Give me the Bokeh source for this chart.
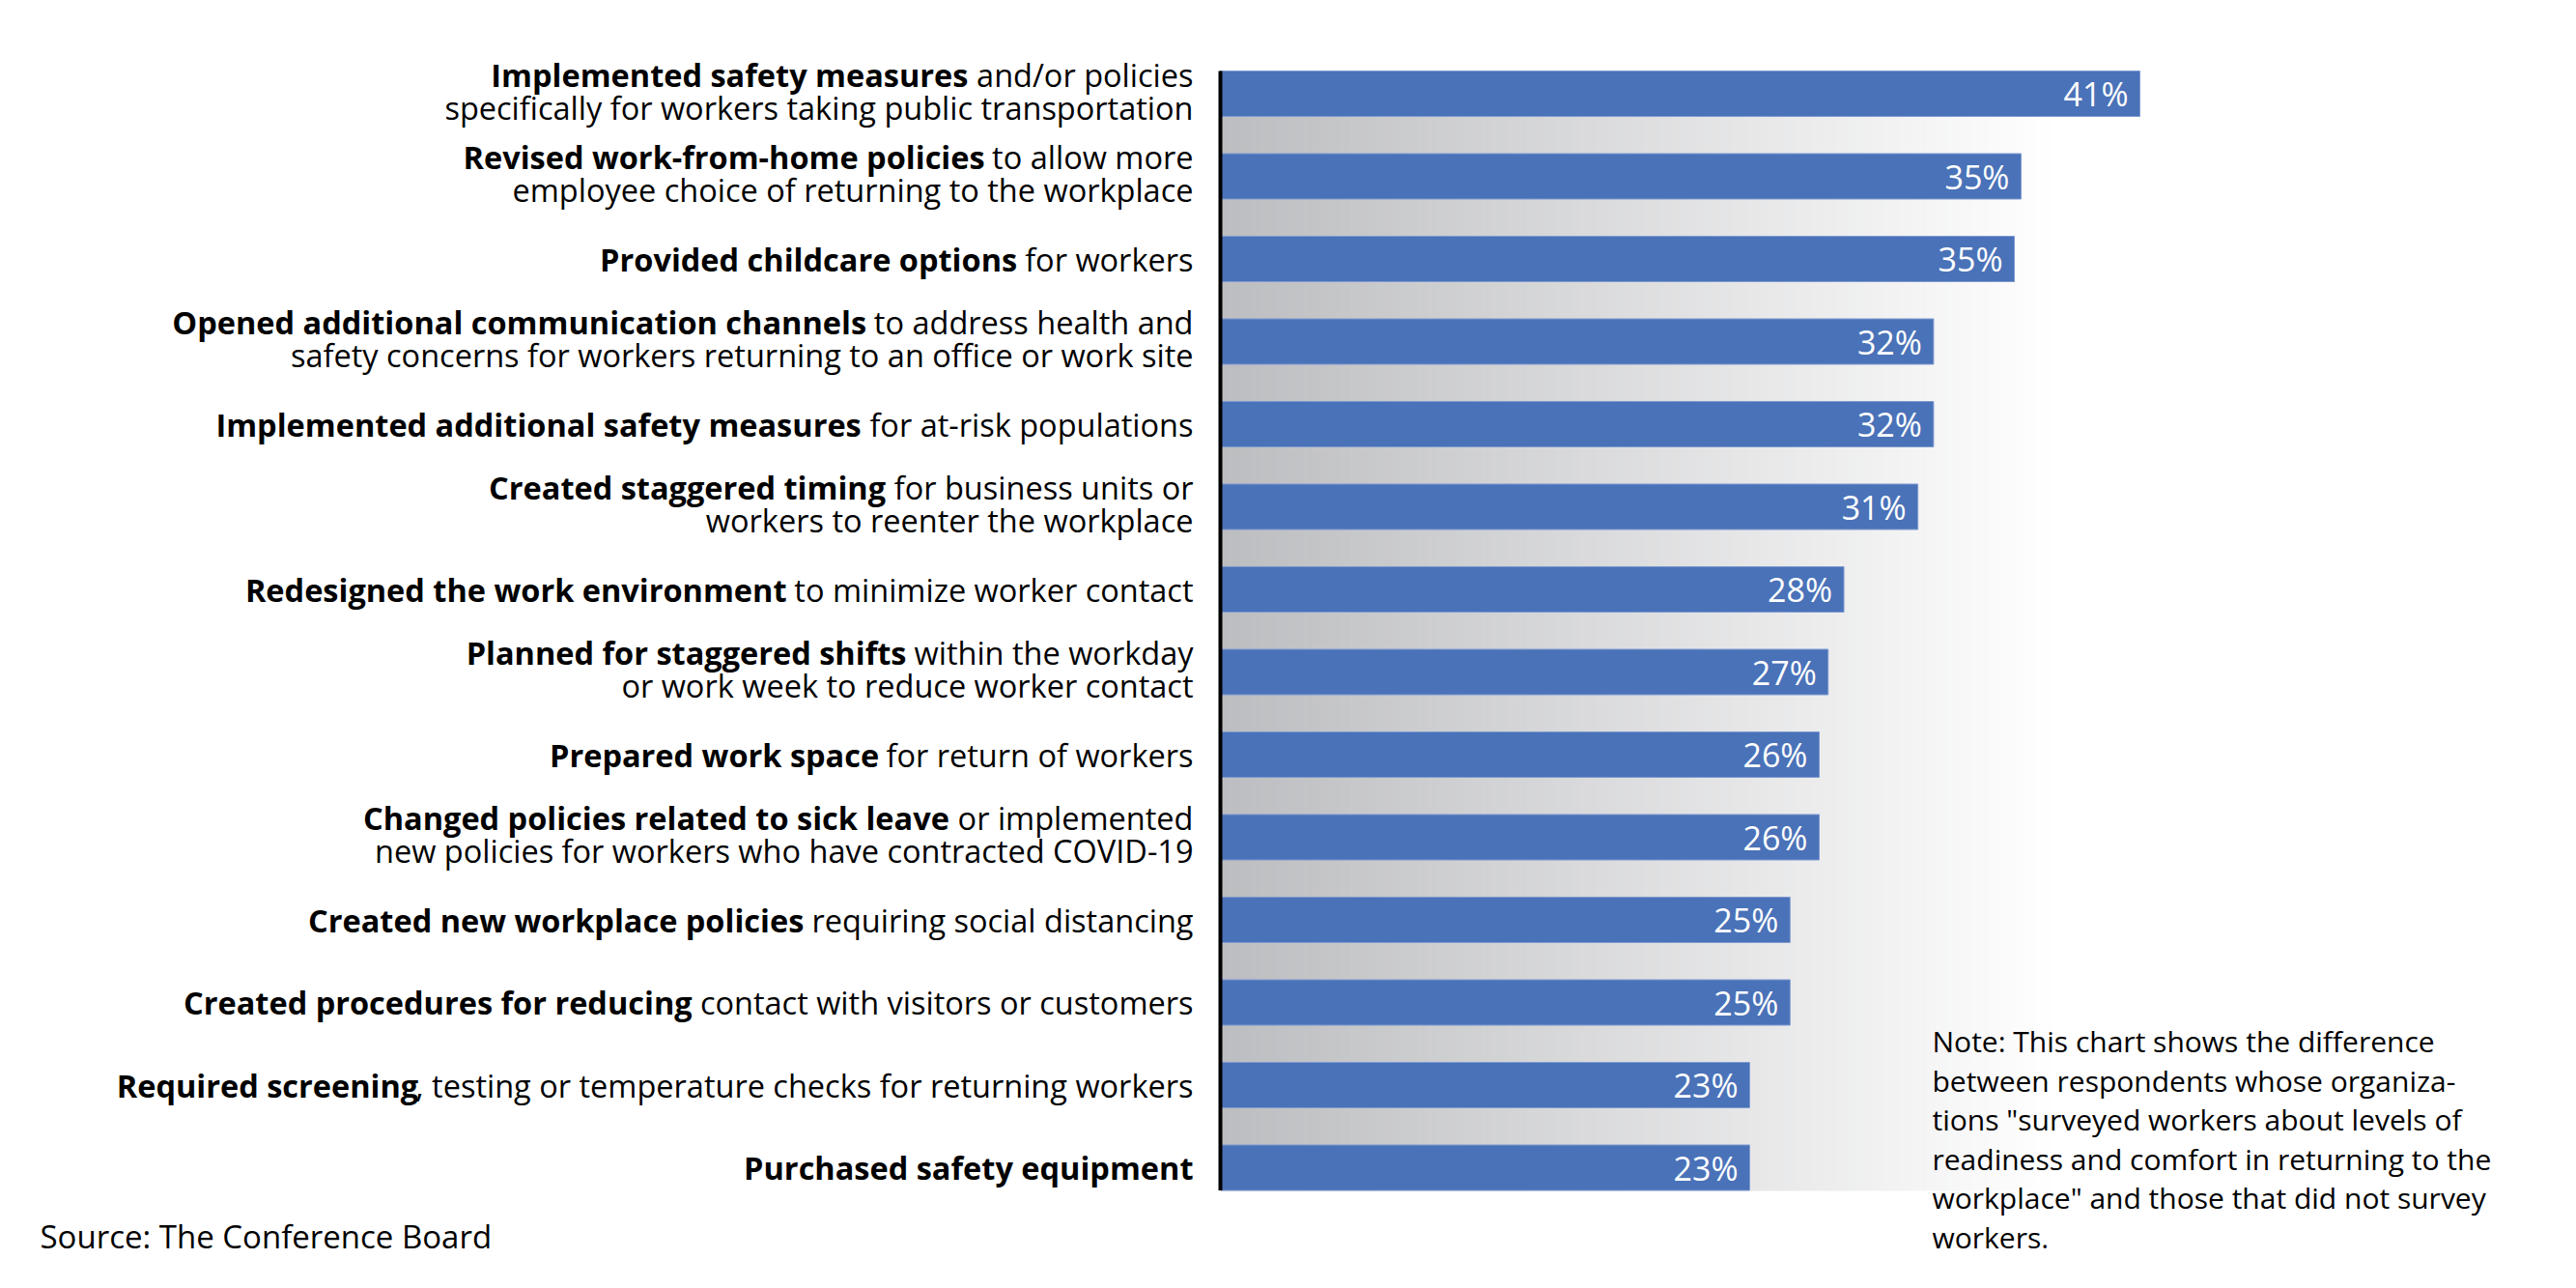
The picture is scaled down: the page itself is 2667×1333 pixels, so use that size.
import os
from bokeh.plotting import figure
from bokeh.models import Range1d, Label, ColumnDataSource
from bokeh.core.properties import value
from bokeh.embed import file_html
from bokeh.resources import INLINE

# ---------------- data ----------------
bold_part = [
    "Implemented safety measures",
    "Revised work-from-home policies",
    "Provided childcare options",
    "Opened additional communication channels",
    "Implemented additional safety measures",
    "Created staggered timing",
    "Redesigned the work environment",
    "Planned for staggered shifts",
    "Prepared work space",
    "Changed policies related to sick leave",
    "Created new workplace policies",
    "Created procedures for reducing",
    "Required screening",
    "Purchased safety equipment",
]
rest_line1 = [
    "and/or policies",
    "to allow more",
    "for workers",
    "to address health and",
    "for at-risk populations",
    "for business units or",
    "to minimize worker contact",
    "within the workday",
    "for return of workers",
    "or implemented",
    "requiring social distancing",
    "contact with visitors or customers",
    ", testing or temperature checks for returning workers",
    "",
]
line2 = [
    "specifically for workers taking public transportation",
    "employee choice of returning to the workplace",
    "",
    "safety concerns for workers returning to an office or work site",
    "",
    "workers to reenter the workplace",
    "",
    "or work week to reduce worker contact",
    "",
    "new policies for workers who have contracted COVID-19",
    "",
    "",
    "",
    "",
]
values = [41.0, 35.7, 35.4, 31.8, 31.8, 31.1, 27.8, 27.1, 26.7, 26.7, 25.4, 25.4, 23.6, 23.6]
value_labels = ["41%", "35%", "35%", "32%", "32%", "31%", "28%", "27%", "26%", "26%",
                "25%", "25%", "23%", "23%"]
note_lines = [
    "Note: This chart shows the difference",
    "between respondents whose organiza-",
    "tions \"surveyed workers about levels of",
    "readiness and comfort in returning to the",
    "workplace\" and those that did not survey",
    "workers.",
]
source_text = "Source: The Conference Board"

# ---------------- style ----------------
W, H = 2667, 1333
FONT = "Open Sans"
LABEL_SIZE = 32.5
VAL_SIZE = 34
NOTE_SIZE = 30
SOURCE_SIZE = 33
U = 23.22          # px per percentage point
AXIS_PX = 1263
Y0_PX = 96.5
STEP_PX = 85.5
BAR_H = 0.55
LABEL_GAP = 28
GRAD_END = 37.3
BAR_COLOR = "#4a72b8"


def find_regular(prefix):
    dirs = ["/usr/share/fonts", "/usr/local/share/fonts",
            os.path.expanduser("~/.fonts"), os.path.expanduser("~/.local/share/fonts")]
    cands = []
    for d in dirs:
        for root, _, files in os.walk(d):
            for f in files:
                if f.startswith(prefix) and f.lower().endswith((".ttf", ".otf")) \
                        and "italic" not in f.lower():
                    cands.append(os.path.join(root, f))
    for c in cands:
        if "Regular" in os.path.basename(c):
            return c
    for c in cands:
        b = os.path.basename(c)
        if "[" in b or b.split(".")[0] == prefix:
            return c
    return None


try:
    from PIL import ImageFont
    _reg = ImageFont.truetype(find_regular("OpenSans"), LABEL_SIZE)

    def width_reg(s):
        return _reg.getlength(s)
except Exception:
    def width_reg(s):
        return len(s) * 0.53 * LABEL_SIZE

n = len(values)
idx = list(range(n))

p = figure(width=W, height=H, title=None,
           x_range=Range1d(-AXIS_PX / U, (W - AXIS_PX) / U),
           y_range=Range1d((H - Y0_PX) / STEP_PX, -Y0_PX / STEP_PX),
           output_backend="svg", toolbar_location=None, min_border=0,
           x_axis_location=None, y_axis_location=None, outline_line_color=None,
           background_fill_color="white", border_fill_color="white")
p.grid.visible = False

# gradient background band
G_TOP = -BAR_H / 2
G_BOT = n - 1 + BAR_H / 2
N = 160
edges = [GRAD_END * k / N for k in range(N + 1)]
cols = []
for k in range(N):
    t = (k + 0.5) / N
    r = round(188 + (255 - 188) * t)
    g = round(189 + (255 - 189) * t)
    b = round(192 + (255 - 192) * t)
    cols.append("#%02x%02x%02x" % (r, g, b))
p.quad(left=edges[:-1], right=edges[1:], top=G_TOP, bottom=G_BOT,
       fill_color=cols, line_color=cols, line_width=1)

# bars
p.hbar(y=idx, left=0, right=values, height=BAR_H, fill_color=BAR_COLOR,
       line_color="#7f9bd0", line_width=1)

# axis line
p.segment(x0=[0], x1=[0], y0=[G_TOP], y1=[G_BOT], line_color="black", line_width=4)

# value labels
p.text(x=values, y=idx, text=value_labels, x_offset=-12, text_align="right",
       text_baseline="middle", text_color="white", text_font=value(FONT),
       text_font_size=f"{VAL_SIZE}px")

# category labels (bold lead + regular remainder, second line regular)
space_w = width_reg(" ")
b_x, b_y, b_t, b_xo, b_yo = [], [], [], [], []
r_x, r_y, r_t, r_xo, r_yo = [], [], [], [], []
for i in range(n):
    two = bool(line2[i])
    yo1 = -20 if two else 0
    rest = rest_line1[i]
    if rest:
        rw = width_reg(rest)
        if not rest.startswith(","):
            rw += space_w
        r_x.append(0); r_y.append(i); r_t.append(rest)
        r_xo.append(-LABEL_GAP); r_yo.append(yo1)
    else:
        rw = 0
    b_x.append(0); b_y.append(i); b_t.append(bold_part[i])
    b_xo.append(-LABEL_GAP - rw); b_yo.append(yo1)
    if two:
        r_x.append(0); r_y.append(i); r_t.append(line2[i])
        r_xo.append(-LABEL_GAP); r_yo.append(14)

src_b = ColumnDataSource(dict(x=b_x, y=b_y, text=b_t, xo=b_xo, yo=b_yo))
src_r = ColumnDataSource(dict(x=r_x, y=r_y, text=r_t, xo=r_xo, yo=r_yo))
p.text(x="x", y="y", text="text", x_offset="xo", y_offset="yo", source=src_b,
       text_align="right", text_baseline="middle", text_color="black",
       text_font=value(FONT), text_font_style="bold", text_font_size=f"{LABEL_SIZE}px")
p.text(x="x", y="y", text="text", x_offset="xo", y_offset="yo", source=src_r,
       text_align="right", text_baseline="middle", text_color="black",
       text_font=value(FONT), text_font_size=f"{LABEL_SIZE}px")

# note
for k, line in enumerate(note_lines):
    p.add_layout(Label(x=2000, y=H - (1077 + 40.5 * k), x_units="screen", y_units="screen",
                       text=line, text_baseline="middle", text_align="left",
                       text_font=FONT, text_font_size=f"{NOTE_SIZE}px", text_color="black"))

# source
p.add_layout(Label(x=41, y=H - 1279, x_units="screen", y_units="screen",
                   text=source_text, text_baseline="middle", text_align="left",
                   text_font=FONT, text_font_size=f"{SOURCE_SIZE}px", text_color="black"))

open("out.html", "w").write(file_html(p, INLINE))
